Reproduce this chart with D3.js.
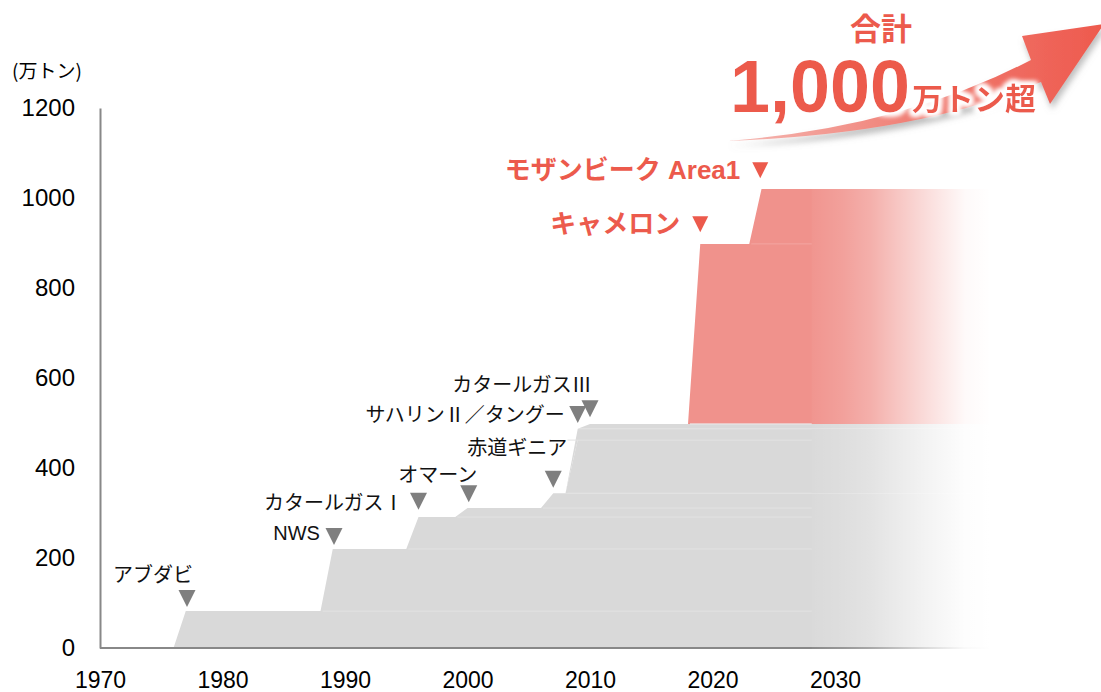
<!DOCTYPE html>
<html>
<head>
<meta charset="utf-8">
<script src="https://cdn.jsdelivr.net/npm/d3@7"></script>
<style>
  body { margin: 0; background: #fff; }
  text { font-family: "Liberation Sans", "Noto Sans CJK JP", sans-serif; }
</style>
</head>
<body>
<div id="chart"></div>
<script>
// Data
var yearTicks = [1970, 1980, 1990, 2000, 2010, 2020, 2030];
var valueTicks = [0, 200, 400, 600, 800, 1000, 1200];

// stacked layers (start year of ramp, capacity in 万トン)
var layerNames = ["アブダビ", "NWS", "カタールガスⅠ", "オマーン", "赤道ギニア", "サハリンⅡ", "タングー", "カタールガスⅢ", "キャメロン", "モザンビーク"];
var layerStart = [1976, 1988, 1995, 1999, 2006, 2008, 2008, 2009, 2018, 2023];
var layerCap = [82, 138, 71, 20, 33, 118, 25, 11, 400, 122];
var layerIsNew = [false, false, false, false, false, false, false, false, true, true];

// annotations: label text, triangle tip (year, value)
var noteText = ["アブダビ", "NWS", "カタールガスⅠ", "オマーン", "赤道ギニア", "サハリンⅡ/タングー", "カタールガスⅢ"];
var noteYear = [1977.1, 1989.1, 1996, 2000.1, 2007, 2009, 2010];
var noteValue = [91, 229, 307, 324, 356, 500, 513];

var newText = ["キャメロン", "モザンビーク Area1"];
var newYear = [2019, 2023.9];
var newValue = [924, 1044];

var svgWidth = 1101;
var svgHeight = 692;
var endYear = 2043;
var solidUntil = 2028.1;

var svg = d3.select("#chart")
    .append("svg")
    .attr("width", svgWidth)
    .attr("height", svgHeight);

var defs = svg.append("defs");

var x = d3.scaleLinear().domain([1970, 2030]).range([100, 835]);
var y = d3.scaleLinear().domain([0, 1200]).range([648, 108]);

// Build table for d3.stack: breakpoints at each ramp start and end
var years = [1970, endYear];
layerStart.forEach(function (s) { years.push(s, s + 1); });
years = Array.from(new Set(years)).sort(function (a, b) { return a - b; });

var rows = years.map(function (yr) {
    var row = { year: yr };
    layerNames.forEach(function (n, i) {
        var t = Math.max(0, Math.min(1, yr - layerStart[i]));
        row[n] = layerCap[i] * t;
    });
    return row;
});

var series = d3.stack().keys(layerNames)(rows);

var area = d3.area()
    .x(function (d) { return x(d.data.year); })
    .y0(function (d) { return y(d[0]); })
    .y1(function (d) { return y(d[1]); });

var chartGroup = svg.append("g");

chartGroup.selectAll("path.layer")
    .data(series)
    .enter()
    .append("path")
    .attr("class", "layer")
    .attr("d", area)
    .attr("fill", function (d, i) { return layerIsNew[i] ? "#f0928c" : "#d9d9d9"; });

// faint lines between layers
var cum = 0;
layerNames.forEach(function (n, i) {
    cum += layerCap[i];
    if (i === layerNames.length - 1) return;
    var nextIsNew = layerIsNew[i + 1];
    chartGroup.append("line")
        .attr("x1", x(layerStart[i + 1]) + 2)
        .attr("x2", x(solidUntil))
        .attr("y1", y(cum))
        .attr("y2", y(cum))
        .attr("stroke", layerIsNew[i] ? "#f3a6a1" : (nextIsNew ? "#ececec" : "#e2e2e2"))
        .attr("stroke-width", 1);
});

// axes
var xAxis = d3.axisBottom(x).tickValues(yearTicks).tickSize(0).tickPadding(24).tickFormat(d3.format("d"));
var yAxis = d3.axisLeft(y).tickValues(valueTicks).tickSize(0).tickPadding(25).tickFormat(d3.format("d"));

var gx = chartGroup.append("g")
    .attr("transform", "translate(0," + y(0) + ")")
    .call(xAxis);
gx.select(".domain").remove();
gx.selectAll("text").attr("font-size", "23px").attr("fill", "#000")
    .style("font-family", "Liberation Sans, Arial, sans-serif");

chartGroup.append("line")
    .attr("x1", x(1970)).attr("x2", x(endYear))
    .attr("y1", y(0)).attr("y2", y(0))
    .attr("stroke", "#888").attr("stroke-width", 2);

var gy = chartGroup.append("g")
    .attr("transform", "translate(" + x(1970) + ",0)")
    .call(yAxis);
gy.select(".domain").attr("stroke", "#888").attr("stroke-width", 2);
gy.selectAll("text").attr("font-size", "24px").attr("fill", "#000")
    .style("font-family", "Liberation Sans, Arial, sans-serif");

// fade out to the right
var fade = defs.append("linearGradient")
    .attr("id", "fade")
    .attr("gradientUnits", "userSpaceOnUse")
    .attr("x1", x(solidUntil)).attr("x2", 990)
    .attr("y1", 0).attr("y2", 0);
[[0, 0.03], [0.17, 0.13], [0.33, 0.27], [0.5, 0.5], [0.67, 0.72], [0.86, 0.95], [1, 1]].forEach(function (s) {
    fade.append("stop").attr("offset", s[0]).attr("stop-color", "#fff").attr("stop-opacity", s[1]);
});
chartGroup.append("rect")
    .attr("x", x(solidUntil))
    .attr("y", y(1040))
    .attr("width", svgWidth - x(solidUntil))
    .attr("height", y(-20) - y(1040))
    .attr("fill", "url(#fade)");

// unit label
svg.append("text")
    .attr("x", 12).attr("y", 78)
    .attr("font-size", "19px")
    .style("font-family", "Noto Sans CJK JP, sans-serif")
    .text("(万トン)");

// annotations for existing projects
var noteLayout = [
    { dx: -34, dy: -34, anchor: "middle" },
    { dx: -14, dy: -12, anchor: "end" },
    { dx: -15, dy: -8, anchor: "end" },
    { dx: -31, dy: -29, anchor: "middle" },
    { dx: -36, dy: -41, anchor: "middle" },
    { dx: -13, dy: -10, anchor: "end" },
    { dx: -68, dy: -34, anchor: "middle" }
];

function triangle(tx, ty, w, h) {
    return "M" + (tx - w / 2) + "," + (ty - h) + "L" + (tx + w / 2) + "," + (ty - h) + "L" + tx + "," + ty + "Z";
}

noteText.forEach(function (t, i) {
    var tx = x(noteYear[i]), ty = y(noteValue[i]);
    chartGroup.append("path")
        .attr("d", triangle(tx, ty, 17, 17))
        .attr("fill", "#7f7f7f");
    chartGroup.append("text")
        .attr("x", tx + noteLayout[i].dx)
        .attr("y", ty + noteLayout[i].dy)
        .attr("text-anchor", noteLayout[i].anchor)
        .attr("dominant-baseline", "central")
        .attr("font-size", "20px")
        .attr("fill", "#111")
        .style("font-family", i === 1 ? "Liberation Sans, sans-serif" : "Noto Sans CJK JP, sans-serif")
        .style("font-feature-settings", "'fwid' 1")
        .text(t);
});

// annotations for new projects
var red = "#ec5a4c";
newText.forEach(function (t, i) {
    var tx = x(newYear[i]), ty = y(newValue[i]);
    chartGroup.append("path")
        .attr("d", triangle(tx, ty, 16, 16))
        .attr("fill", red);
    chartGroup.append("text")
        .attr("x", tx - 20)
        .attr("y", ty - 8)
        .attr("text-anchor", "end")
        .attr("dominant-baseline", "central")
        .attr("font-size", "26px")
        .attr("font-weight", "bold")
        .attr("fill", red)
        .text(t);
});

// headline arrow
var arrowGrad = defs.append("linearGradient")
    .attr("id", "arrowGrad")
    .attr("gradientUnits", "userSpaceOnUse")
    .attr("x1", 730).attr("x2", 1100).attr("y1", 0).attr("y2", 0);
arrowGrad.append("stop").attr("offset", 0).attr("stop-color", "#f5b9b4");
arrowGrad.append("stop").attr("offset", 0.5).attr("stop-color", "#f07e74");
arrowGrad.append("stop").attr("offset", 1).attr("stop-color", "#ee5a4e");

var shadow = defs.append("filter").attr("id", "shadow")
    .attr("x", "-10%").attr("y", "-30%").attr("width", "130%").attr("height", "180%");
shadow.append("feGaussianBlur").attr("in", "SourceAlpha").attr("stdDeviation", 3).attr("result", "b");
shadow.append("feOffset").attr("in", "b").attr("dx", 2).attr("dy", 5).attr("result", "o");
shadow.append("feFlood").attr("flood-color", "#888").attr("flood-opacity", 0.55);
shadow.append("feComposite").attr("in2", "o").attr("operator", "in").attr("result", "s");
var sm = shadow.append("feMerge");
sm.append("feMergeNode").attr("in", "s");
sm.append("feMergeNode").attr("in", "SourceGraphic");

svg.append("path")
    .attr("d", "M728,141 Q900,128 1031,60 L1022,36 L1104,24 L1050,104 L1041,82 Q920,134 728,141 Z")
    .attr("fill", "url(#arrowGrad)")
    .attr("filter", "url(#shadow)");

var glow = defs.append("filter").attr("id", "glow")
    .attr("x", "-20%").attr("y", "-40%").attr("width", "140%").attr("height", "180%");
glow.append("feMorphology").attr("in", "SourceAlpha").attr("operator", "dilate").attr("radius", 3).attr("result", "d");
glow.append("feGaussianBlur").attr("in", "d").attr("stdDeviation", 2.5).attr("result", "b");
glow.append("feFlood").attr("flood-color", "#fff");
glow.append("feComposite").attr("in2", "b").attr("operator", "in").attr("result", "w");
var gm = glow.append("feMerge");
gm.append("feMergeNode").attr("in", "w");
gm.append("feMergeNode").attr("in", "w");
gm.append("feMergeNode").attr("in", "SourceGraphic");

svg.append("text")
    .attr("x", 881).attr("y", 40)
    .attr("text-anchor", "middle")
    .attr("font-size", "31px")
    .attr("font-weight", "bold")
    .attr("fill", red)
    .style("font-family", "Noto Sans CJK JP, sans-serif")
    .text("合計");

svg.append("text")
    .attr("x", 730).attr("y", 112)
    .attr("font-size", "74px")
    .attr("font-weight", "bold")
    .attr("fill", red)
    .attr("textLength", 180)
    .attr("lengthAdjust", "spacingAndGlyphs")
    .attr("filter", "url(#glow)")
    .text("1,000");

svg.append("text")
    .attr("x", 912).attr("y", 110)
    .attr("font-size", "31px")
    .attr("font-weight", "bold")
    .attr("fill", red)
    .attr("filter", "url(#glow)")
    .style("font-family", "Noto Sans CJK JP, sans-serif")
    .text("万トン超");
</script>
</body>
</html>
